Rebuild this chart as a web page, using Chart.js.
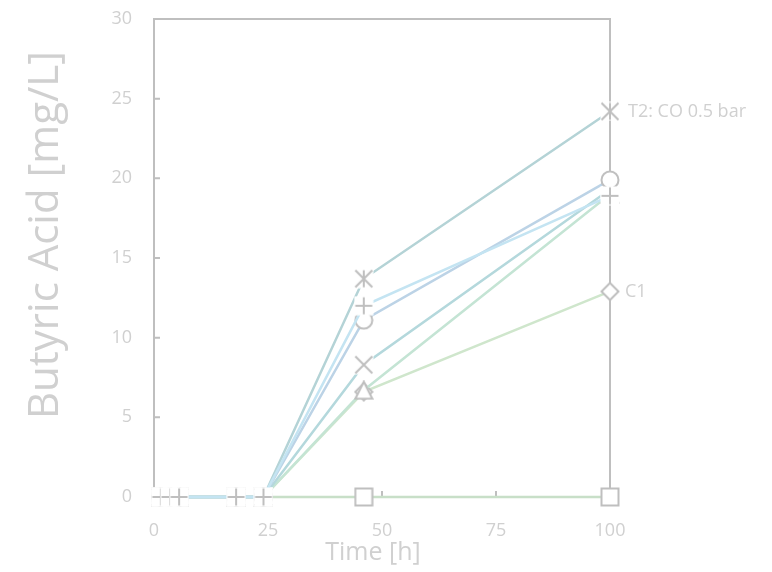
<!DOCTYPE html>
<html>
<head>
<meta charset="utf-8">
<script src="https://cdn.jsdelivr.net/npm/chart.js@4/dist/chart.umd.min.js"></script>
<style>
    html, body { margin: 0; padding: 0; background: #fff; }
    #wrap { width: 772px; height: 572px; }
</style>
</head>
<body>
<div id="wrap"><canvas id="acid_chart"></canvas></div>
<script>
// data
const times = [1.5, 3.5, 5.5, 18, 24, 46, 100];
const plusValues = [0, 0, 0, 0, 0, 12.0, 18.9];
const circleValues = [0, 0, 0, 0, 0, 11.1, 19.9];
const starValues = [0, 0, 0, 0, 0, 13.7, 24.2];
const crossValues = [0, 0, 0, 0, 0, 8.3, 19.3];
const triangleValues = [0, 0, 0, 0, 0, 6.7, 19.0];
const diamondValues = [0, 0, 0, 0, 0, 6.6, 12.9];
const squareValues = [0, 0, 0, 0, 0, 0, 0];
const xTicks = [0, 25, 50, 75, 100];
const yTicks = [0, 5, 10, 15, 20, 25, 30];

const gray = "#bfbfbf";
const textGray = "#d0d0d0";

// excel-like markers: white fill, gray outline
function marker(type) {
    const c = document.createElement("canvas");
    c.width = 20;
    c.height = 20;
    const ctx = c.getContext("2d");
    ctx.strokeStyle = gray;
    ctx.fillStyle = "#fff";
    ctx.lineWidth = 2;
    const m = 10, h = 8.5;
    ctx.beginPath();
    if (type === "square") {
        ctx.rect(m - h, m - h, 2 * h, 2 * h);
        ctx.fill();
        ctx.stroke();
    } else if (type === "circle") {
        ctx.arc(m, m, h, 0, Math.PI * 2);
        ctx.fill();
        ctx.stroke();
    } else if (type === "triangle") {
        ctx.moveTo(m, m - h);
        ctx.lineTo(m + h, m + h);
        ctx.lineTo(m - h, m + h);
        ctx.closePath();
        ctx.fill();
        ctx.stroke();
    } else if (type === "diamond") {
        ctx.moveTo(m, m - h);
        ctx.lineTo(m + h, m);
        ctx.lineTo(m, m + h);
        ctx.lineTo(m - h, m);
        ctx.closePath();
        ctx.fill();
        ctx.stroke();
    } else {
        ctx.fillRect(m - h - 1, m - h - 1, 2 * h + 2, 2 * h + 2);
        if (type === "plus") {
            ctx.moveTo(m - h, m);
            ctx.lineTo(m + h, m);
            ctx.moveTo(m, m - h);
            ctx.lineTo(m, m + h);
        } else {
            ctx.moveTo(m - h, m - h);
            ctx.lineTo(m + h, m + h);
            ctx.moveTo(m + h, m - h);
            ctx.lineTo(m - h, m + h);
            if (type === "star") {
                ctx.moveTo(m, m - h);
                ctx.lineTo(m, m + h);
            }
        }
        ctx.stroke();
    }
    return c;
}

function series(label, values, color, shape) {
    return {
        label: label,
        data: times.map((t, i) => ({ x: t, y: values[i] })),
        borderColor: color,
        borderWidth: 2.5,
        pointStyle: marker(shape),
        pointRadius: 9,
        tension: 0,
        clip: false,
    };
}

// dataset 0 is drawn last (on top)
const datasets = [
    series("plus", plusValues, "#c4e4f2", "plus"),
    series("circle", circleValues, "#bcd3e6", "circle"),
    series("T2: CO 0.5 bar", starValues, "#b4d3d6", "star"),
    series("cross", crossValues, "#b4d8dc", "cross"),
    series("triangle", triangleValues, "#c4e4d4", "triangle"),
    series("C1", diamondValues, "#cfe6cc", "diamond"),
    series("square", squareValues, "#c8dfc8", "square"),
];

const framePlugin = {
    id: "frame",
    beforeDatasetsDraw(chart) {
        const { ctx, chartArea: a, scales } = chart;
        ctx.save();
        ctx.strokeStyle = gray;
        ctx.lineWidth = 2;
        ctx.beginPath();
        ctx.moveTo(a.left, a.bottom);
        ctx.lineTo(a.left, a.top);
        ctx.lineTo(a.right, a.top);
        ctx.lineTo(a.right, a.bottom);
        ctx.lineTo(a.left, a.bottom);
        // inward tick marks
        yTicks.slice(1, -1).forEach((v) => {
            const y = scales.y.getPixelForValue(v);
            ctx.moveTo(a.left, y);
            ctx.lineTo(a.left + 6, y);
        });
        xTicks.slice(1, -1).forEach((v) => {
            const x = scales.x.getPixelForValue(v);
            ctx.moveTo(x, a.bottom);
            ctx.lineTo(x, a.bottom - 6);
        });
        ctx.stroke();
        ctx.restore();
    },
    afterDraw(chart) {
        const { ctx, scales } = chart;
        ctx.save();
        ctx.fillStyle = textGray;
        ctx.textBaseline = "middle";
        // point labels
        ctx.font = "18px 'Open Sans'";
        const last = times.length - 1;
        ctx.fillText("T2: CO 0.5 bar", scales.x.getPixelForValue(times[last]) + 18,
            scales.y.getPixelForValue(starValues[last]));
        ctx.fillText("C1", scales.x.getPixelForValue(times[last]) + 15,
            scales.y.getPixelForValue(diamondValues[last]));
        // axis titles
        ctx.textAlign = "center";
        ctx.font = "25px 'Open Sans'";
        ctx.fillText("Time [h]", 373, 553);
        ctx.translate(46, 235);
        ctx.rotate(-Math.PI / 2);
        ctx.font = "42px 'Open Sans'";
        ctx.fillText("Butyric Acid [mg/L]", 0, 0);
        ctx.restore();
    },
};

new Chart(document.querySelector("#acid_chart"), {
    type: "line",
    data: { datasets: datasets },
    options: {
        responsive: true,
        maintainAspectRatio: false,
        animation: false,
        events: [],
        layout: {
            padding: { top: 19, right: 162, left: 0, bottom: 0 },
        },
        plugins: {
            legend: { display: false },
            tooltip: { enabled: false },
        },
        scales: {
            x: {
                type: "linear",
                min: 0,
                max: 100,
                afterFit: (scale) => {
                    scale.height = 75;
                    scale.paddingLeft = 0;
                    scale.paddingRight = 0;
                },
                afterBuildTicks: (scale) => {
                    scale.ticks = xTicks.map((v) => ({ value: v }));
                },
                grid: { display: false, drawTicks: false },
                border: { display: false },
                ticks: {
                    color: textGray,
                    padding: 23,
                    maxRotation: 0,
                    font: { family: "'Open Sans'", size: 18 },
                },
            },
            y: {
                min: 0,
                max: 30,
                afterFit: (scale) => {
                    scale.width = 154;
                    scale.paddingTop = 0;
                    scale.paddingBottom = 0;
                },
                afterBuildTicks: (scale) => {
                    scale.ticks = yTicks.map((v) => ({ value: v }));
                },
                grid: { display: false, drawTicks: false },
                border: { display: false },
                ticks: {
                    color: textGray,
                    padding: 22,
                    font: { family: "'Open Sans'", size: 18 },
                },
            },
        },
    },
    plugins: [framePlugin],
});
</script>
</body>
</html>
